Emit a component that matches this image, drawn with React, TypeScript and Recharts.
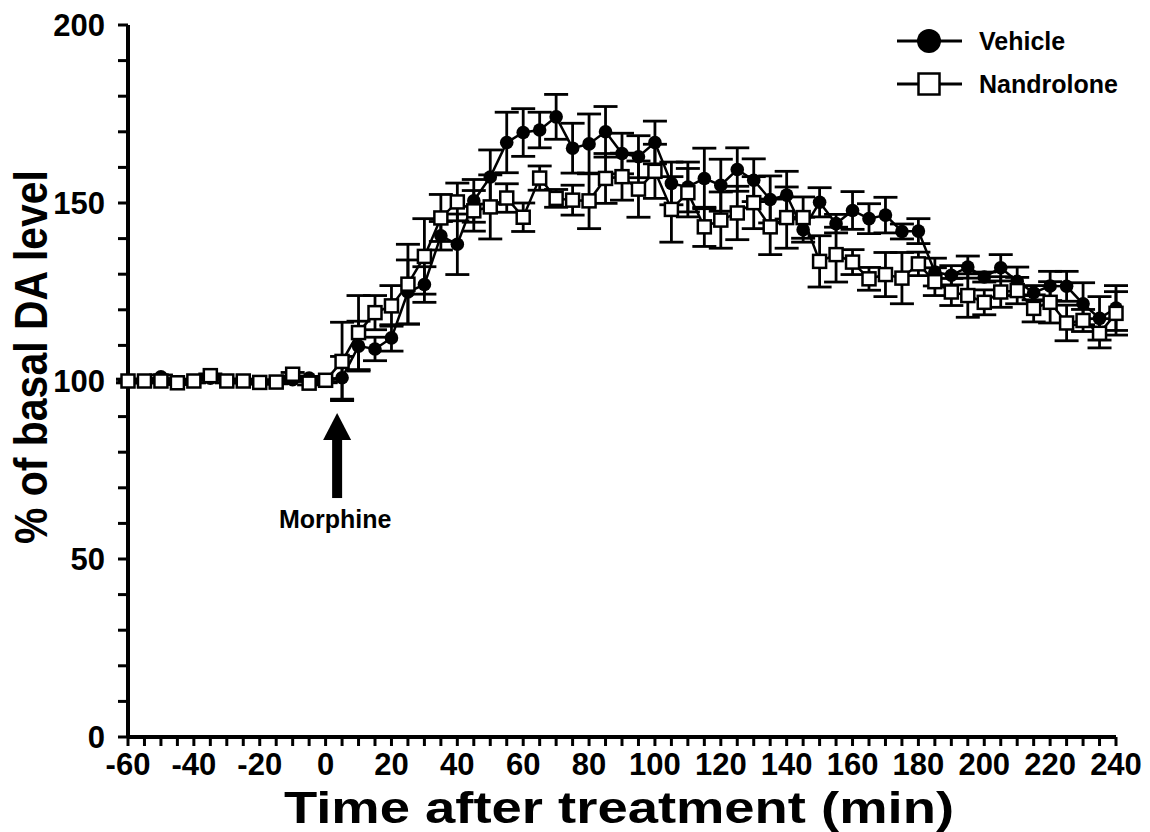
import {
  LineChart, Line, XAxis, YAxis, ErrorBar, ReferenceDot, Legend,
} from 'recharts'

const font = "'Liberation Sans', Arial, sans-serif"

const times = [
  -60, -55, -50, -45, -40, -35, -30, -25, -20, -15, -10, -5, 0, 5, 10, 15, 20, 25, 30, 35, 40,
  45, 50, 55, 60, 65, 70, 75, 80, 85, 90, 95, 100, 105, 110, 115, 120, 125, 130, 135, 140,
  145, 150, 155, 160, 165, 170, 175, 180, 185, 190, 195, 200, 205, 210, 215, 220, 225, 230, 235, 240,
]

const vehicle = [
  100, 100, 101.2, 99.7, 100, 100.8, 100, 100, 99.8, 99.8, 100.4, 100.8, 100, 100.9, 109.8, 109, 112.1, 125, 127.1, 140.8, 138.4,
  150.6, 157.3, 167, 169.8, 170.5, 174.2, 165.4, 166.6, 170, 163.9, 163, 167, 155.5, 154.5, 156.9, 155, 159.4, 156.4, 151, 152.2,
  142.5, 150.2, 144.2, 147.9, 145.6, 146.6, 142, 142.1, 130.6, 129.7, 132, 129.2, 131.8, 128, 124.8, 126.7, 126.6, 121.7, 117.6, 120.5,
]
const vehicleSem = [
  0.5, 0.5, 0.5, 0.5, 0.5, 0.5, 0.5, 0.5, 0.5, 0.5, 0.5, 0.5, 0.5, 6, 7, 3.3, 3.7, 9, 5, 4, 8.5,
  6, 7.6, 8.5, 6.7, 5, 6.3, 7, 8.4, 7.1, 5.7, 5.9, 6, 6, 7, 8.5, 7.3, 6.1, 6, 6.6, 6.7,
  3.5, 4.1, 2.6, 5.3, 4.2, 5, 2.1, 3.5, 3.9, 2.7, 3.1, 1.4, 3.7, 4, 2, 4.1, 4.2, 5.9, 6.1, 6.3,
]

const nandrolone = [
  100, 100, 100, 99.5, 100, 101.5, 100, 100, 99.6, 99.7, 101.9, 99.4, 100.2, 105.5, 113.6, 119.2, 121.1, 127.2, 135, 145.8, 150.3,
  147.8, 148.9, 151.4, 146, 157, 151.3, 150.8, 150.6, 156.9, 157.4, 153.9, 158.9, 148.2, 152.9, 143.3, 145.2, 147.2, 150.1, 143.3, 145.9,
  145.9, 133.6, 135.5, 133.4, 128.7, 129.9, 128.9, 132.9, 127.9, 125, 124, 122.1, 125, 125.4, 120.4, 122.1, 116.3, 117, 113.4, 119,
]
const nandroloneSem = [
  0.5, 0.5, 0.5, 0.5, 0.5, 0.5, 0.5, 0.5, 0.5, 0.5, 0.5, 0.5, 0.5, 11, 10.4, 4.8, 5.7, 11.2, 10.6, 6.6, 5.3,
  5.7, 9, 4, 4, 3.4, 2.5, 4.2, 7.8, 7, 6.6, 7.9, 7.6, 9.2, 6.8, 5.5, 7.9, 7.5, 7.3, 7.8, 8.6,
  5.8, 7.2, 7.7, 3.5, 3.2, 6.2, 7.2, 3.3, 3.9, 3.8, 6.1, 3.5, 4.3, 3.7, 3.8, 5.8, 5, 3.1, 4.1, 6.1,
]

const yTicks = [0, 10, 20, 30, 40, 50, 60, 70, 80, 90, 100, 110, 120, 130, 140, 150, 160, 170, 180, 190, 200]
const injection = { time: 3.5, tip: 91, label: 'Morphine' }

const data = times.map((t, i) => ({
  t,
  veh: vehicle[i],
  vehErr: vehicleSem[i],
  nan: nandrolone[i],
  nanErr: nandroloneSem[i],
}))

function CircleDot(props: any) {
  const { cx, cy, index } = props
  return <circle key={`c${index}`} cx={cx} cy={cy} r={6.8} fill="#000" />
}

function SquareDot(props: any) {
  const { cx, cy, index } = props
  return <rect key={`s${index}`} x={cx - 6.5} y={cy - 6.5} width={13} height={13} fill="#fff" stroke="#000" strokeWidth={2.5} />
}

function XTick({ x, payload }: any) {
  if (payload.value % 20 !== 0) return <g />
  return (
    <text x={x} y={775} textAnchor="middle" fontFamily={font} fontWeight="bold" fontSize={31} fill="#000">
      {payload.value}
    </text>
  )
}

function YTick({ x, y, payload }: any) {
  if (payload.value % 50 !== 0) return <g />
  return (
    <text x={x} y={y} dy="0.36em" textAnchor="end" fontFamily={font} fontWeight="bold" fontSize={31} fill="#000">
      {payload.value}
    </text>
  )
}

function XTitle({ viewBox }: any) {
  const cx = viewBox.x + viewBox.width / 2 - 3
  return (
    <text x={cx} y={viewBox.y + 86} textAnchor="middle" fontFamily={font} fontWeight="bold" fontSize={44}
      textLength={670} lengthAdjust="spacingAndGlyphs" fill="#000">
      Time after treatment (min)
    </text>
  )
}

function YTitle({ viewBox }: any) {
  const x = 47
  const y = viewBox.y + viewBox.height / 2 - 24
  return (
    <text x={x} y={y} transform={`rotate(-90, ${x}, ${y})`} textAnchor="middle" fontFamily={font} fontWeight="bold"
      fontSize={47} textLength={374} lengthAdjust="spacingAndGlyphs" fill="#000">
      % of basal DA level
    </text>
  )
}

function Arrow({ cx, cy }: any) {
  return (
    <g>
      <polygon points={`${cx},${cy} ${cx - 14},${cy + 27} ${cx + 14},${cy + 27}`} fill="#000" />
      <rect x={cx - 5} y={cy + 25} width={10} height={60} fill="#000" />
      <text x={cx - 2} y={cy + 115} textAnchor="middle" fontFamily={font} fontWeight="bold" fontSize={25} fill="#000">
        {injection.label}
      </text>
    </g>
  )
}

function LegendBox() {
  return (
    <svg width={265} height={100}>
      <line x1={17} x2={82} y1={31} y2={31} stroke="#000" strokeWidth={3} />
      <circle cx={49} cy={31} r={12} fill="#000" />
      <text x={99} y={31} dy="0.36em" fontFamily={font} fontWeight="bold" fontSize={25}>Vehicle</text>
      <line x1={17} x2={82} y1={74} y2={74} stroke="#000" strokeWidth={3} />
      <rect x={38.5} y={63.5} width={21} height={21} fill="#fff" stroke="#000" strokeWidth={2.5} />
      <text x={99} y={74} dy="0.36em" fontFamily={font} fontWeight="bold" fontSize={25}>Nandrolone</text>
    </svg>
  )
}

export default function App() {
  return (
    <div style={{ position: 'absolute', left: 0, top: 0, width: 1150, height: 832, background: '#fff' }}>
      <LineChart width={1150} height={832} data={data} margin={{ top: 25, right: 34, bottom: 0, left: 0 }}>
        <XAxis
          dataKey="t"
          type="number"
          domain={[-60, 240]}
          ticks={times}
          interval={0}
          height={95}
          tick={XTick}
          tickSize={9}
          axisLine={{ stroke: '#000', strokeWidth: 4 }}
          tickLine={{ stroke: '#000', strokeWidth: 3 }}
          label={{ content: XTitle }}
        />
        <YAxis
          type="number"
          domain={[0, 200]}
          ticks={yTicks}
          interval={0}
          width={128}
          tick={YTick}
          tickSize={10}
          tickMargin={13}
          axisLine={{ stroke: '#000', strokeWidth: 4 }}
          tickLine={{ stroke: '#000', strokeWidth: 3 }}
          label={{ content: YTitle }}
        />
        <Legend
          layout="vertical"
          align="center"
          verticalAlign="middle"
          wrapperStyle={{ top: 10, left: 880, width: 265, height: 100 }}
          content={LegendBox}
        />
        <Line
          dataKey="veh"
          name="Vehicle"
          type="linear"
          stroke="#000"
          strokeWidth={2.5}
          dot={CircleDot}
          activeDot={false}
          isAnimationActive={false}
        >
          <ErrorBar dataKey="vehErr" width={12} strokeWidth={2.8} stroke="#000" direction="y" isAnimationActive={false} />
        </Line>
        <Line
          dataKey="nan"
          name="Nandrolone"
          type="linear"
          stroke="#000"
          strokeWidth={2.5}
          dot={SquareDot}
          activeDot={false}
          isAnimationActive={false}
        >
          <ErrorBar dataKey="nanErr" width={12} strokeWidth={2.8} stroke="#000" direction="y" isAnimationActive={false} />
        </Line>
        <ReferenceDot x={injection.time} y={injection.tip} r={0} shape={Arrow} />
      </LineChart>
    </div>
  )
}
